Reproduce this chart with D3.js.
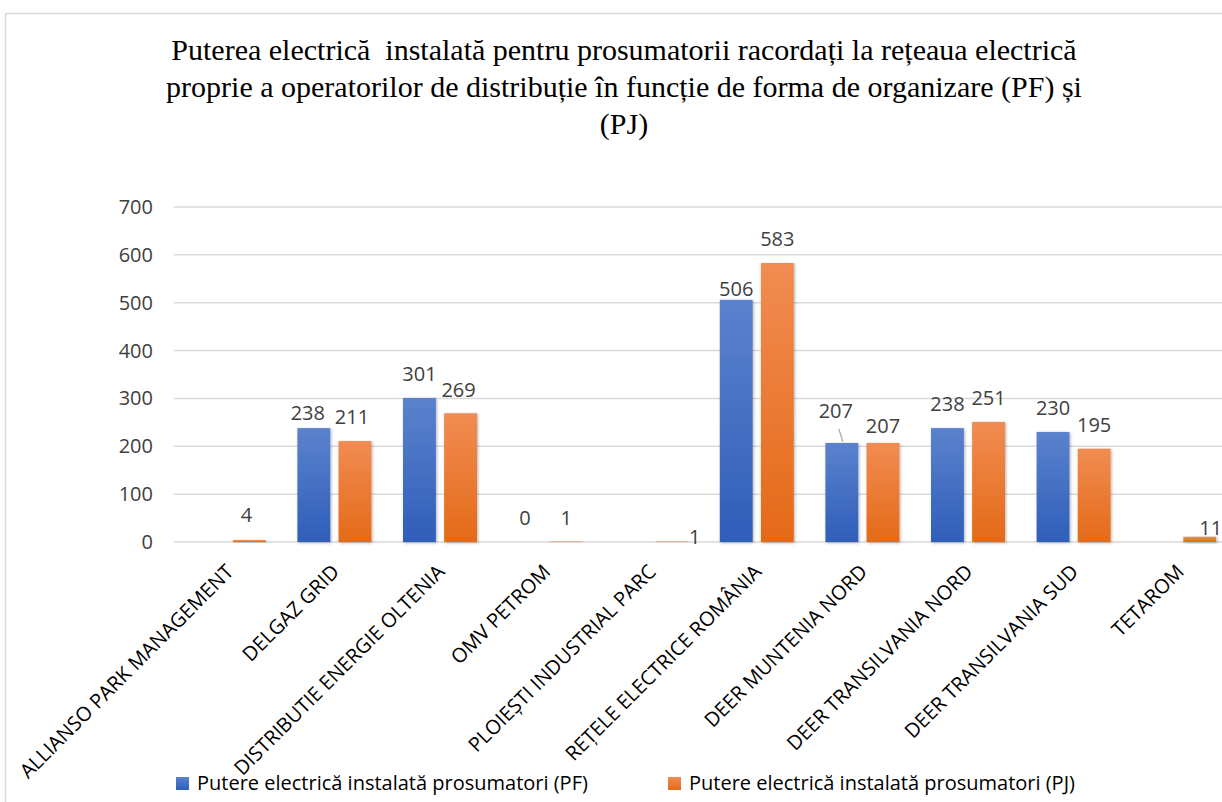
<html>
    <head>
        <meta charset='UTF-8'>
        <script src="https://d3js.org/d3.v7.min.js"></script>
        <style>
            body { margin: 0; background: #ffffff; }
        </style>
    </head>
    <body>
        <svg id="chart" height="802" width="1222"></svg>

        <script>
            // categories (distribution operators)
            const categories = [
                'ALLIANSO PARK MANAGEMENT', 'DELGAZ GRID', 'DISTRIBUTIE ENERGIE OLTENIA', 'OMV PETROM',
                'PLOIEȘTI INDUSTRIAL PARC', 'REȚELE ELECTRICE ROMÂNIA', 'DEER MUNTENIA NORD',
                'DEER TRANSILVANIA NORD', 'DEER TRANSILVANIA SUD', 'TETAROM'
            ];
            // PF values (null = no bar / no label)
            const pfValues = [null, 238, 301, 0, null, 506, 207, 238, 230, null];
            // PJ values
            const pjValues = [4, 211, 269, 1, 1, 583, 207, 251, 195, 11];
            const seriesNames = ['Putere electrică instalată prosumatori (PF)', 'Putere electrică instalată prosumatori (PJ)'];
            const yTicks = [0, 100, 200, 300, 400, 500, 600, 700];
            const titleLines = [
                'Puterea electrică  instalată pentru prosumatorii racordați la rețeaua electrică',
                'proprie a operatorilor de distribuție în funcție de forma de organizare (PF) și',
                '(PJ)'
            ];

            // label nudges that were moved by hand in the original
            const nudges = {
                'PF-1': {dx: -6, dy: 9},
                'PJ-1': {dx: -3, dy: 0},
                'PJ-2': {dx: -2, dy: 1},
                'PF-5': {dx: 0, dy: 13},
                'PF-6': {dx: -6, dy: -8, leader: true},
                'PJ-6': {dx: 0, dy: 7},
                'PJ-4': {dx: 23, dy: 19},
                'PJ-9': {dx: 11, dy: 15},
                'PJ-0': {dx: -3, dy: -1}
            };

            let svg = d3.select('svg#chart');
            const font = "'Open Sans', sans-serif";

            // frame of the chart area
            svg.append('rect')
               .attr('x', 5.5).attr('y', 13.5)
               .attr('width', 1300).attr('height', 900)
               .style('fill', '#ffffff')
               .style('stroke', '#d9d9d9')
               .style('stroke-width', 1.5);

            // gradients and shadow
            let defs = svg.append('defs');
            const gradColors = {PF: ['#5b82cd', '#2f5eb9'], PJ: ['#f18c52', '#e46a18']};
            Object.keys(gradColors).forEach(k => {
                let g = defs.append('linearGradient').attr('id', 'grad' + k)
                            .attr('x1', 0).attr('y1', 0).attr('x2', 0).attr('y2', 1);
                g.append('stop').attr('offset', '0%').attr('stop-color', gradColors[k][0]);
                g.append('stop').attr('offset', '100%').attr('stop-color', gradColors[k][1]);
            });
            defs.append('filter').attr('id', 'shadow')
                .attr('x', '-30%').attr('y', '-10%').attr('width', '160%').attr('height', '130%')
                .append('feDropShadow')
                .attr('dx', 1).attr('dy', 1).attr('stdDeviation', 1.6)
                .attr('flood-color', '#000').attr('flood-opacity', 0.3);

            // title
            svg.append('text')
               .attr('x', 624).attr('y', 60)
               .style('font-family', "'Liberation Serif', 'Times New Roman', serif")
               .style('font-size', '30px')
               .style('fill', '#000')
               .attr('text-anchor', 'middle')
               .selectAll('tspan').data(titleLines).join('tspan')
               .attr('x', 624).attr('dy', (d, i) => i === 0 ? 0 : 37)
               .style('white-space', 'pre')
               .text(d => d);

            // scales
            let x0 = d3.scaleBand().domain(categories).range([176, 1232]);
            const outer = 15.8;
            let x1 = d3.scaleBand().domain(['PF', 'PJ'])
                       .range([outer, x0.bandwidth() - outer]).paddingInner(0.2);
            let y = d3.scaleLinear().domain([0, 700]).range([542, 207]);

            // gridlines + y labels
            yTicks.forEach(t => {
                svg.append('line')
                   .attr('x1', 174).attr('x2', 1222)
                   .attr('y1', y(t)).attr('y2', y(t))
                   .style('stroke', '#d9d9d9').style('stroke-width', 1.5);
                svg.append('text')
                   .attr('x', 153).attr('y', y(t)).attr('dy', '0.35em')
                   .attr('text-anchor', 'end')
                   .style('font-family', font).style('font-size', '20px')
                   .style('fill', '#404040')
                   .text(t);
            });

            // bars
            const series = [{key: 'PF', values: pfValues}, {key: 'PJ', values: pjValues}];
            series.forEach(s => {
                s.values.forEach((v, i) => {
                    if (v === null) return;
                    let bx = x0(categories[i]) + x1(s.key);
                    if (v > 0) {
                        svg.append('rect')
                           .attr('x', bx).attr('y', y(v))
                           .attr('width', x1.bandwidth())
                           .attr('height', y(0) - y(v))
                           .style('fill', 'url(#grad' + s.key + ')')
                           .attr('filter', 'url(#shadow)');
                    }
                });
            });

            // data labels
            series.forEach(s => {
                s.values.forEach((v, i) => {
                    if (v === null) return;
                    let n = nudges[s.key + '-' + i] || {dx: 0, dy: 0};
                    let cx = x0(categories[i]) + x1(s.key) + x1.bandwidth() / 2;
                    let ly = y(v) - 17 + n.dy;
                    if (n.leader) {
                        svg.append('line')
                           .attr('x1', cx - 3).attr('y1', ly + 11)
                           .attr('x2', cx + 1).attr('y2', y(v) - 1)
                           .style('stroke', '#a6a6a6').style('stroke-width', 1.2);
                    }
                    svg.append('text')
                       .attr('x', cx + n.dx).attr('y', ly)
                       .attr('text-anchor', 'middle')
                       .style('font-family', font).style('font-size', '20px')
                       .style('fill', '#404040')
                       .text(v);
                });
            });

            // category labels, rotated
            categories.forEach(c => {
                let cx = x0(c) + x0.bandwidth() / 2;
                svg.append('text')
                   .attr('transform', 'translate(' + (cx + 6) + ',573) rotate(-45)')
                   .attr('text-anchor', 'end')
                   .style('font-family', font).style('font-size', '20px')
                   .style('fill', '#000')
                   .text(c);
            });

            // legend
            const legendX = [176, 668];
            series.forEach((s, i) => {
                svg.append('rect')
                   .attr('x', legendX[i]).attr('y', 777)
                   .attr('width', 13).attr('height', 13)
                   .style('fill', 'url(#grad' + s.key + ')');
                svg.append('text')
                   .attr('x', legendX[i] + 21).attr('y', 783).attr('dy', '0.35em')
                   .style('font-family', font).style('font-size', '20px')
                   .style('fill', '#000')
                   .text(seriesNames[i]);
            });
        </script>
    </body>
</html>
